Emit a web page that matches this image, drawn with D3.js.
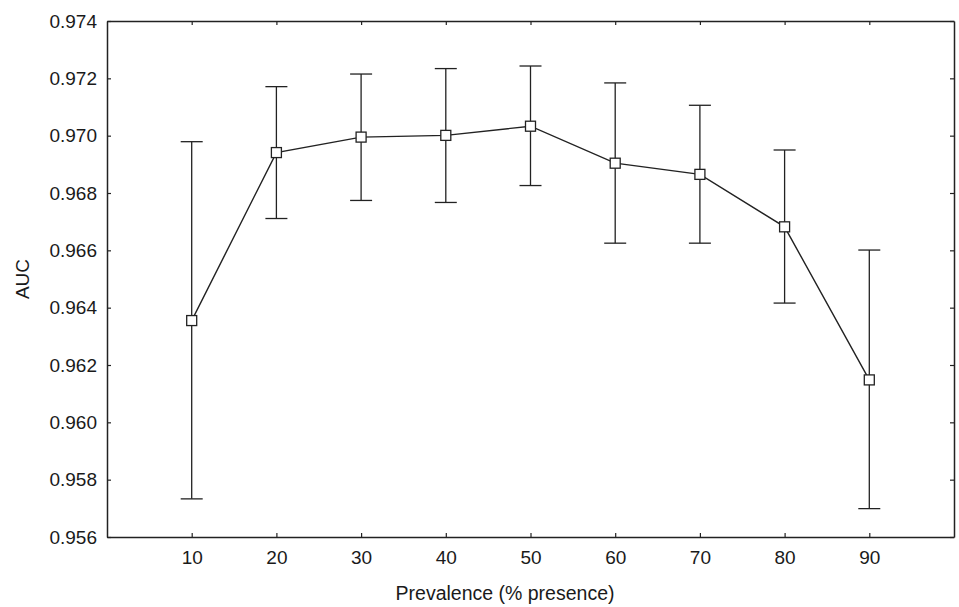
<!DOCTYPE html>
<html>
<head>
<script src="https://d3js.org/d3.v7.min.js"></script>
<style>
  body { margin: 0; background: #fff; }
  text { font-family: "Liberation Sans", Arial, sans-serif; fill: #1a1a1a; }
</style>
</head>
<body>
<div id="chart"></div>
<script>
// prevalence categories and AUC (mean with lower / upper error bar)
var prevalence = [10, 20, 30, 40, 50, 60, 70, 80, 90];
var aucMean  = [0.96355, 0.96941, 0.96995, 0.97001, 0.97033, 0.96904, 0.96865, 0.96682, 0.96148];
var aucLower = [0.95733, 0.96711, 0.96774, 0.96767, 0.96826, 0.96625, 0.96625, 0.96416, 0.95699];
var aucUpper = [0.96979, 0.97171, 0.97215, 0.97234, 0.97243, 0.97184, 0.97106, 0.96950, 0.96601];
var yTicks = [0.956, 0.958, 0.960, 0.962, 0.964, 0.966, 0.968, 0.970, 0.972, 0.974];

var width = 959, height = 607;
var margin = {top: 21, right: 5, bottom: 70, left: 107};
var w = width - margin.left - margin.right,
    h = height - margin.top - margin.bottom;

var svg = d3.select("#chart").append("svg")
    .attr("width", width)
    .attr("height", height);

var g = svg.append("g")
    .attr("transform", "translate(" + margin.left + "," + margin.top + ")");

var x = d3.scaleLinear().domain([0, 100]).range([0, w]);
var y = d3.scaleLinear().domain([0.956, 0.974]).range([h, 0]);

var ink = "#222";

// axes, ticks pointing inward on all four sides
var fmt = d3.format(".3f");
var axLeft = g.append("g").call(d3.axisLeft(y).tickValues(yTicks).tickFormat(fmt).tickSizeInner(-4).tickSizeOuter(0).tickPadding(10));
var axRight = g.append("g").attr("transform", "translate(" + w + ",0)")
    .call(d3.axisRight(y).tickValues(yTicks).tickFormat("").tickSizeInner(-4).tickSizeOuter(0));
var axBottom = g.append("g").attr("transform", "translate(0," + h + ")")
    .call(d3.axisBottom(x).tickValues(prevalence).tickFormat(d3.format("d")).tickSizeInner(-4).tickSizeOuter(0).tickPadding(14));
var axTop = g.append("g")
    .call(d3.axisTop(x).tickValues(prevalence).tickFormat("").tickSizeInner(-4).tickSizeOuter(0));

[axLeft, axRight, axBottom, axTop].forEach(function(a) {
  a.attr("font-family", null).attr("font-size", null);
  a.select(".domain").attr("stroke", ink).attr("stroke-width", 1.5);
  a.selectAll(".tick line").attr("stroke", ink).attr("stroke-width", 1.2);
  a.selectAll(".tick text").style("font-size", "19px").attr("fill", "#1a1a1a");
});

// error bars
var cap = 11;
var bars = g.selectAll(".err").data(prevalence).enter().append("g").attr("class", "err");
bars.append("line")
    .attr("x1", function(d) { return x(d); })
    .attr("x2", function(d) { return x(d); })
    .attr("y1", function(d, i) { return y(aucLower[i]); })
    .attr("y2", function(d, i) { return y(aucUpper[i]); });
bars.append("line")
    .attr("x1", function(d) { return x(d) - cap; })
    .attr("x2", function(d) { return x(d) + cap; })
    .attr("y1", function(d, i) { return y(aucUpper[i]); })
    .attr("y2", function(d, i) { return y(aucUpper[i]); });
bars.append("line")
    .attr("x1", function(d) { return x(d) - cap; })
    .attr("x2", function(d) { return x(d) + cap; })
    .attr("y1", function(d, i) { return y(aucLower[i]); })
    .attr("y2", function(d, i) { return y(aucLower[i]); });
bars.selectAll("line").attr("stroke", ink).attr("stroke-width", 1.3);

// mean line
var line = d3.line()
    .x(function(d, i) { return x(prevalence[i]); })
    .y(function(d) { return y(d); });

g.append("path")
    .datum(aucMean)
    .attr("fill", "none")
    .attr("stroke", ink)
    .attr("stroke-width", 1.4)
    .attr("d", line);

// square markers
var s = 10;
g.selectAll(".pt").data(aucMean).enter().append("rect")
    .attr("class", "pt")
    .attr("x", function(d, i) { return x(prevalence[i]) - s / 2; })
    .attr("y", function(d) { return y(d) - s / 2; })
    .attr("width", s)
    .attr("height", s)
    .attr("fill", "#fff")
    .attr("stroke", ink)
    .attr("stroke-width", 1.3);

// axis titles
svg.append("text")
    .attr("x", 505)
    .attr("y", 600)
    .attr("text-anchor", "middle")
    .style("font-size", "19.5px")
    .text("Prevalence (% presence)");

svg.append("text")
    .attr("transform", "translate(29," + (margin.top + h / 2) + ") rotate(-90)")
    .attr("text-anchor", "middle")
    .style("font-size", "19px")
    .text("AUC");
</script>
</body>
</html>
